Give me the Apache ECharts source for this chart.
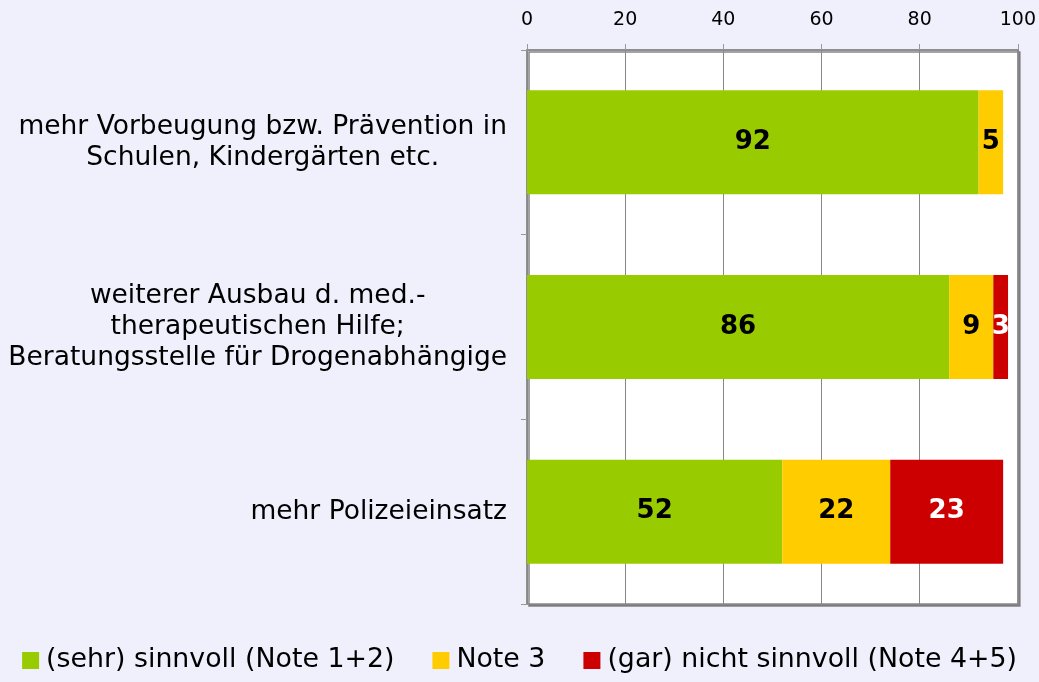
<!DOCTYPE html>
<html>
<head>
<meta charset="utf-8">
<script src="https://cdn.jsdelivr.net/npm/echarts@6/dist/echarts.min.js"></script>
<style>
html,body{margin:0;padding:0;background:#f0f0fd;}
#chart{width:1039px;height:682px;}
</style>
</head>
<body>
<div id="chart"></div>
<script>
var categories = [
  "mehr Vorbeugung bzw. Prävention in\nSchulen, Kindergärten etc.",
  "weiterer Ausbau d. med.-\ntherapeutischen Hilfe;\nBeratungsstelle für Drogenabhängige",
  "mehr Polizeieinsatz"
];
var seriesNames = ["(sehr) sinnvoll (Note 1+2)", "Note 3", "(gar) nicht sinnvoll (Note 4+5)"];
var sinnvoll = [92, 86, 52];
var note3 = [5, 9, 22];
var nichtSinnvoll = [null, 3, 23];
var xTicks = [0, 20, 40, 60, 80, 100];

var FONT = "DejaVu Sans";
var colors = ["#99cc00", "#ffcc00", "#cc0000"];
var labelColors = ["#000", "#000", "#fff"];
var seriesData = [sinnvoll, note3, nichtSinnvoll];

var chart = echarts.init(document.getElementById('chart'));
var series = seriesData.map(function (d, i) {
  return {
    name: seriesNames[i],
    type: 'bar',
    stack: 'total',
    data: d,
    barWidth: 104,
    itemStyle: { color: colors[i] },
    label: {
      show: true,
      position: 'inside',
      color: labelColors[i],
      fontFamily: FONT,
      fontWeight: 'bold',
      fontSize: 26
    }
  };
});

chart.setOption({
  backgroundColor: '#f0f0fd',
  animation: false,
  color: colors,
  grid: {
    left: 527, right: 21, top: 50, bottom: 78,
    show: true,
    backgroundColor: '#ffffff',
    borderColor: '#888888',
    borderWidth: 1.5,
    shadowColor: 'rgba(120,120,120,0.9)',
    shadowOffsetX: 2,
    shadowOffsetY: 2,
    shadowBlur: 0
  },
  xAxis: {
    type: 'value',
    position: 'top',
    min: xTicks[0],
    max: xTicks[xTicks.length - 1],
    interval: xTicks[1] - xTicks[0],
    axisLine: { show: true, lineStyle: { color: '#888', width: 1.5 } },
    axisTick: { show: true, length: 6, lineStyle: { color: '#999' } },
    splitLine: { show: true, lineStyle: { color: '#888', width: 1 } },
    axisLabel: {
      color: '#000', fontFamily: FONT, fontSize: 19, margin: 20,
      formatter: function (v) { return xTicks.indexOf(v) >= 0 ? String(v) : ''; }
    }
  },
  yAxis: {
    type: 'category',
    inverse: true,
    data: categories,
    axisLine: { show: true, lineStyle: { color: '#888', width: 1.5 } },
    axisTick: { show: true, length: 6, lineStyle: { color: '#999' } },
    axisLabel: {
      margin: 20,
      align: 'right',
      formatter: function (v) {
        return v.split('\n').map(function (l) { return '{c|' + l + '}'; }).join('\n');
      },
      rich: {
        c: { align: 'center', fontFamily: FONT, fontSize: 26.5, color: '#000', lineHeight: 31 }
      }
    }
  },
  legend: {
    bottom: 3,
    left: 'center',
    icon: 'rect',
    itemWidth: 17,
    itemHeight: 17,
    itemGap: 38,
    textStyle: { fontFamily: FONT, fontSize: 26.8, color: '#000', padding: [0,0,0,2] },
    data: seriesNames
  },
  series: series
});
</script>
</body>
</html>
